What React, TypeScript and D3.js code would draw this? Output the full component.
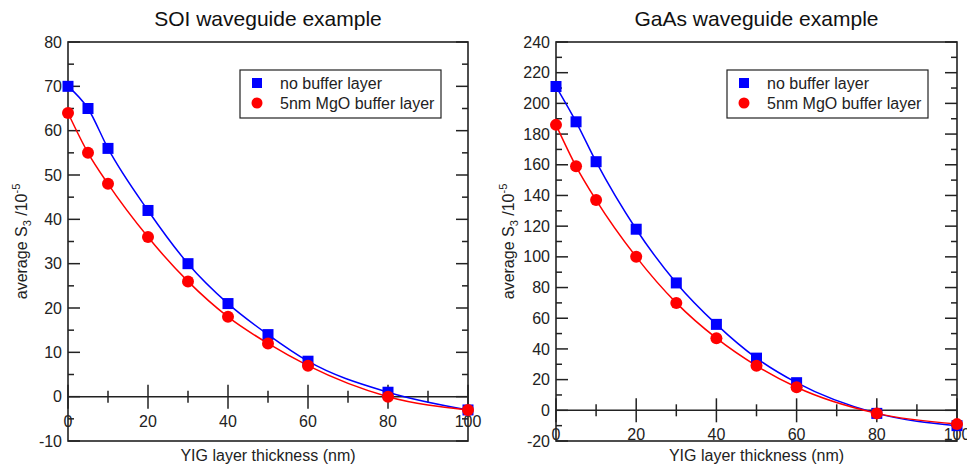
import React from 'react';
import * as d3 from 'd3';

const thickness = [0, 5, 10, 20, 30, 40, 50, 60, 80, 100];
const soiNoBuffer = [70, 65, 56, 42, 30, 21, 14, 8, 1, -3];
const soiMgO = [64, 55, 48, 36, 26, 18, 12, 7, 0, -3];
const gaasNoBuffer = [211, 188, 162, 118, 83, 56, 34, 18, -2, -10];
const gaasMgO = [186, 159, 137, 100, 70, 47, 29, 15, -2, -9];

const xMajorTicks = [0, 20, 40, 60, 80, 100];
const xMinorTicks = [10, 30, 50, 70, 90];
const soiYTicks = [-10, 0, 10, 20, 30, 40, 50, 60, 70, 80];
const soiYMinor = [-5, 5, 15, 25, 35, 45, 55, 65, 75];
const gaasYTicks = [-20, 0, 20, 40, 60, 80, 100, 120, 140, 160, 180, 200, 220, 240];
const gaasYMinor = [-10, 10, 30, 50, 70, 90, 110, 130, 150, 170, 190, 210, 230];

const seriesNames = ['no buffer layer', '5nm MgO buffer layer'];
const FONT = 'Liberation Sans, Arial, sans-serif';
const AXIS = '#222';

type PanelProps = {
  title: string;
  left: number;
  right: number;
  yDomain: [number, number];
  yTicks: number[];
  yMinor: number[];
  blue: number[];
  red: number[];
  labelX: number;
  legendX: number;
};

const Panel = ({ title, left, right, yDomain, yTicks, yMinor, blue, red, labelX, legendX }: PanelProps) => {
  const top = 42;
  const bottom = 441;
  const x = d3.scaleLinear().domain([0, 100]).range([left, right]);
  const y = d3.scaleLinear().domain(yDomain).range([bottom, top]);
  const y0 = y(0);
  const line = d3.line<number>()
    .x((_, i) => x(thickness[i]))
    .y(d => y(d))
    .curve(d3.curveMonotoneX);
  const cx = (left + right) / 2;

  return (
    <g fontFamily={FONT}>
      <text x={cx} y={26} textAnchor="middle" fontSize={21} fill="#111">{title}</text>

      {/* frame */}
      <rect x={left} y={top} width={right - left} height={bottom - top} fill="none" stroke={AXIS} strokeWidth={1.6} />

      {/* y ticks on both sides, pointing in */}
      {yTicks.map(t => (
        <g key={'y' + t}>
          <line x1={left} x2={left + 12} y1={y(t)} y2={y(t)} stroke={AXIS} strokeWidth={1.5} />
          <line x1={right} x2={right - 12} y1={y(t)} y2={y(t)} stroke={AXIS} strokeWidth={1.5} />
          <text x={left - 6} y={y(t)} dy="0.35em" textAnchor="end" fontSize={16} fill="#222">{t}</text>
        </g>
      ))}
      {yMinor.map(t => (
        <g key={'ym' + t}>
          <line x1={left} x2={left + 6} y1={y(t)} y2={y(t)} stroke={AXIS} strokeWidth={1.5} />
          <line x1={right} x2={right - 6} y1={y(t)} y2={y(t)} stroke={AXIS} strokeWidth={1.5} />
        </g>
      ))}

      {/* zero line carries the x ticks */}
      <line x1={left} x2={right} y1={y0} y2={y0} stroke={AXIS} strokeWidth={1.5} />
      {xMajorTicks.map(t => (
        <g key={'x' + t}>
          <line x1={x(t)} x2={x(t)} y1={y0 - 12} y2={y0 + 12} stroke={AXIS} strokeWidth={1.5} />
          <text x={x(t)} y={y0 + 30} textAnchor="middle" fontSize={16} fill="#222">{t}</text>
        </g>
      ))}
      {xMinorTicks.map(t => (
        <line key={'xm' + t} x1={x(t)} x2={x(t)} y1={y0 - 6} y2={y0 + 6} stroke={AXIS} strokeWidth={1.5} />
      ))}

      {/* fit curves */}
      <path d={line(blue) || ''} fill="none" stroke="#0000ff" strokeWidth={1.5} />
      <path d={line(red) || ''} fill="none" stroke="#ff0000" strokeWidth={1.5} />

      {/* markers */}
      {blue.map((v, i) => (
        <rect key={'b' + i} x={x(thickness[i]) - 5.5} y={y(v) - 5.5} width={11} height={11} fill="#0000ff" />
      ))}
      {red.map((v, i) => (
        <circle key={'r' + i} cx={x(thickness[i])} cy={y(v)} r={6} fill="#ff0000" />
      ))}

      {/* axis labels */}
      <text x={cx} y={461} textAnchor="middle" fontSize={16} fill="#222">YIG layer thickness (nm)</text>
      <text transform={`translate(${labelX},${(top + bottom) / 2}) rotate(-90)`} textAnchor="middle" fontSize={16} fill="#222">
        average S<tspan fontSize={11} dy={4}>3</tspan><tspan dy={-4}> /10</tspan><tspan fontSize={11} dy={-7}>-5</tspan>
      </text>

      {/* legend */}
      <rect x={legendX} y={70} width={201} height={48} fill="#fff" stroke={AXIS} strokeWidth={1.2} />
      <rect x={legendX + 12} y={78} width={10} height={10} fill="#0000ff" />
      <circle cx={legendX + 17} cy={103} r={5.5} fill="#ff0000" />
      <text x={legendX + 40} y={88.5} fontSize={16} fill="#222">{seriesNames[0]}</text>
      <text x={legendX + 40} y={108.5} fontSize={16} fill="#222">{seriesNames[1]}</text>
    </g>
  );
};

const App = () => (
  <svg width={967} height={467} style={{ position: 'absolute', left: 0, top: 0, background: '#fff' }}>
    <rect width={967} height={467} fill="#fff" />
    <Panel title="SOI waveguide example" left={68} right={468} yDomain={[-10, 80]}
      yTicks={soiYTicks} yMinor={soiYMinor} blue={soiNoBuffer} red={soiMgO} labelX={27} legendX={240} />
    <Panel title="GaAs waveguide example" left={556} right={957} yDomain={[-20, 240]}
      yTicks={gaasYTicks} yMinor={gaasYMinor} blue={gaasNoBuffer} red={gaasMgO} labelX={514} legendX={727} />
  </svg>
);

export default App;
